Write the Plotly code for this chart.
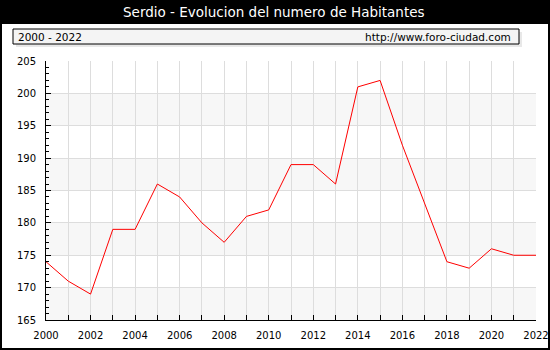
import plotly.graph_objects as go

# Population of Serdio, 2000-2022
years = list(range(2000, 2023))
habitantes = [174, 171, 169, 179, 179, 186, 184, 180, 177, 181, 182, 189,
              189, 186, 201, 202, 192, 183, 174, 173, 176, 175, 175]

title_text = "Serdio - Evolucion del numero de Habitantes"
period_text = "2000 - 2022"
url_text = "http://www.foro-ciudad.com"

W, H = 550, 350
L, R, T, B = 46, 14, 61, 30
PW, PH = W - L - R, H - T - B

def px(x):
    return (x - L) / PW

def py(y):
    return (H - B - y) / PH

FONT = "DejaVu Sans, Verdana, sans-serif"

fig = go.Figure()
fig.add_trace(go.Scatter(
    x=years, y=habitantes, mode="lines",
    line=dict(color="#ff0000", width=1),
    hoverinfo="x+y", showlegend=False,
))

shapes = [
    # white body under the black title strip
    dict(type="rect", xref="paper", yref="paper", layer="below",
         x0=px(2), x1=px(548), y0=py(348), y1=py(24),
         fillcolor="white", line=dict(width=0)),
    # header box shadow and box
    dict(type="rect", xref="paper", yref="paper", layer="below",
         x0=px(16), x1=px(522), y0=py(47), y1=py(32),
         fillcolor="#e8e8e8", line=dict(width=0)),
    dict(type="rect", xref="paper", yref="paper", layer="below",
         x0=px(13), x1=px(519), y0=py(44), y1=py(29),
         fillcolor="#f4f4f4", line=dict(color="black", width=1)),
]
# alternating horizontal bands
for lo in (165, 175, 185, 195):
    shapes.append(dict(type="rect", xref="paper", yref="y", layer="below",
                       x0=0, x1=1, y0=lo, y1=lo + 5,
                       fillcolor="#f7f7f7", line=dict(width=0)))

annotations = [
    dict(text=title_text, xref="paper", yref="paper", x=px(274), y=py(12),
         xanchor="center", yanchor="middle", showarrow=False,
         font=dict(family=FONT, size=13.5, color="white")),
    dict(text=period_text, xref="paper", yref="paper", x=px(16), y=py(36.5),
         xanchor="left", yanchor="middle", showarrow=False,
         font=dict(family=FONT, size=10.5, color="black")),
    dict(text=url_text, xref="paper", yref="paper", x=px(513), y=py(36.5),
         xanchor="right", yanchor="middle", showarrow=False,
         font=dict(family=FONT, size=10.5, color="black")),
]

fig.update_layout(
    width=W, height=H,
    margin=dict(l=L, r=R, t=T, b=B, pad=0, autoexpand=False),
    paper_bgcolor="black", plot_bgcolor="white",
    shapes=shapes, annotations=annotations,
    font=dict(family=FONT, size=10, color="black"),
    xaxis=dict(
        range=[2000, 2022], tick0=2000, dtick=2, automargin=False,
        showline=True, linecolor="black", linewidth=1,
        ticks="inside", ticklen=5, tickcolor="black",
        showgrid=True, gridcolor="#dddddd", gridwidth=1,
        zeroline=False, ticklabelstandoff=6,
        minor=dict(dtick=1, tick0=2000, ticks="inside", ticklen=5,
                   tickcolor="black", showgrid=True, gridcolor="#dddddd"),
        tickfont=dict(family=FONT, size=10, color="black"),
    ),
    yaxis=dict(
        range=[165, 205], tick0=165, dtick=5, automargin=False,
        showline=True, linecolor="black", linewidth=1,
        ticks="inside", ticklen=5, tickcolor="black",
        showgrid=True, gridcolor="#dddddd", gridwidth=1,
        zeroline=False, ticklabelstandoff=7,
        minor=dict(dtick=1, tick0=165, ticks="inside", ticklen=3,
                   tickcolor="black", showgrid=False),
        tickfont=dict(family=FONT, size=10, color="black"),
    ),
)

fig.write_html("out.html")
